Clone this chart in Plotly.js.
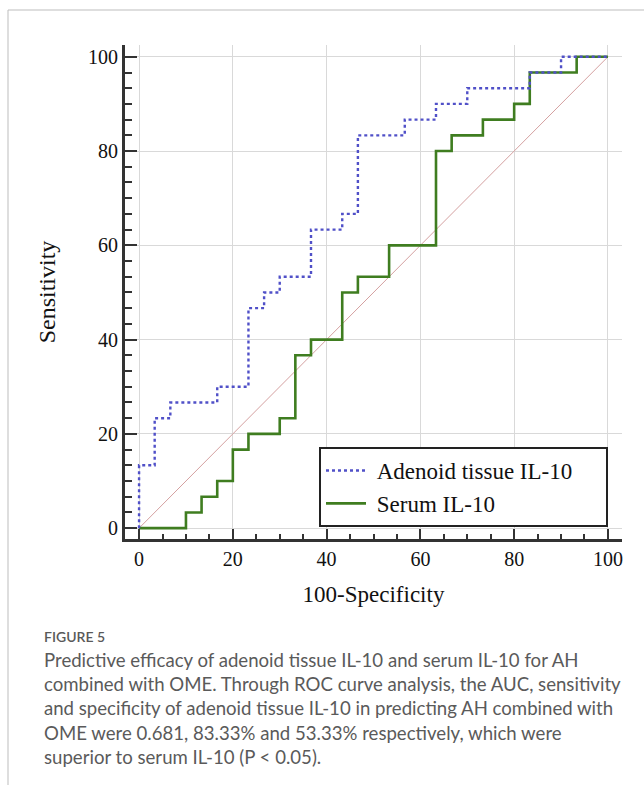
<!DOCTYPE html>
<html>
<head>
<meta charset="utf-8">
<script src="https://cdn.plot.ly/plotly-3.0.1.min.js"></script>
<style>
html,body{margin:0;padding:0;background:#fff;}
#chart{width:644px;height:785px;}
</style>
</head>
<body>
<div id="chart"></div>
<script>
// ROC vertices (100-Specificity, Sensitivity), drawn as steps
const adenoidX = [0, 0, 3.33, 6.67, 16.67, 23.33, 26.67, 30, 36.67, 43.33, 46.67, 56.67, 63.33, 70, 83.33, 90, 100];
const adenoidY = [0, 13.33, 23.33, 26.67, 30, 46.67, 50, 53.33, 63.33, 66.67, 83.33, 86.67, 90, 93.33, 96.67, 100, 100];
const serumX = [0, 10, 13.33, 16.67, 20, 23.33, 30, 33.33, 36.67, 43.33, 46.67, 53.33, 63.33, 66.67, 73.33, 80, 83.33, 93.33, 100];
const serumY = [0, 3.33, 6.67, 10, 16.67, 20, 23.33, 36.67, 40, 50, 53.33, 60, 80, 83.33, 86.67, 90, 96.67, 100, 100];
const refX = [0, 100];
const refY = [0, 100];
const tickVals = [0, 20, 40, 60, 80, 100];
const seriesNames = ['Adenoid tissue IL-10', 'Serum IL-10'];
const captionHead = 'FIGURE 5';
const captionLines = [
  'Predictive efficacy of adenoid tissue IL-10 and serum IL-10 for AH',
  'combined with OME. Through ROC curve analysis, the AUC, sensitivity',
  'and specificity of adenoid tissue IL-10 in predicting AH combined with',
  'OME were 0.681, 83.33% and 53.33% respectively, which were',
  'superior to serum IL-10 (P < 0.05).'
];

const serif = 'Liberation Serif, Times New Roman, serif';
const W = 644, H = 785;
const L = 125, R = 22, T = 45, B = 246;
const pw = W - L - R, ph = H - T - B;
const px = v => (v - L) / pw;       // pixel x -> paper
const py = v => (H - B - v) / ph;   // pixel y -> paper
const pad = '\u00a0\u00a0\u00a0\u00a0\u00a0';

const traces = [
  {x: refX, y: refY, type: 'scatter', mode: 'lines', showlegend: false, hoverinfo: 'skip',
   line: {color: '#d4a0a0', width: 1}},
  {x: serumX, y: serumY, type: 'scatter', mode: 'lines', name: '\u00a0' + seriesNames[1],
   line: {color: '#3f7d20', width: 2.6, shape: 'hv'}},
  {x: adenoidX, y: adenoidY, type: 'scatter', mode: 'lines', name: '\u00a0' + seriesNames[0] + pad,
   line: {color: '#5050c8', width: 2.4, dash: 'dot', shape: 'hv'}}
];

const annotations = [
  {text: captionHead, xref: 'paper', yref: 'paper', x: px(42), y: py(636), xanchor: 'left', yanchor: 'middle',
   showarrow: false, font: {family: 'Lato, Noto Sans, sans-serif', size: 14, color: '#595959', weight: 600}}
];
captionLines.forEach((t, i) => {
  annotations.push({text: t, xref: 'paper', yref: 'paper', x: px(42), y: py(660 + i * 24.2),
    xanchor: 'left', yanchor: 'middle', showarrow: false,
    font: {family: 'Lato, Noto Sans, sans-serif', size: 18.6, color: '#5a5a5a'}});
});

const layout = {
  width: W, height: H,
  margin: {l: L, r: R, t: T, b: B, pad: 0},
  paper_bgcolor: '#fff', plot_bgcolor: '#fff',
  showlegend: true,
  legend: {x: px(608), y: py(527), xanchor: 'right', yanchor: 'bottom',
    bordercolor: '#222', borderwidth: 2, bgcolor: '#fff', traceorder: 'reversed',
    font: {family: serif, size: 23, color: '#111'}, itemwidth: 40, tracegroupgap: 0},
  xaxis: {range: [-3, 103], tickvals: tickVals, ticks: 'inside', ticklen: 10, tickwidth: 2, tickcolor: '#333',
    showline: true, linecolor: '#333', linewidth: 2.5, mirror: false,
    showgrid: true, gridcolor: '#d9d9d9', gridwidth: 1, zeroline: false,
    minor: {dtick: 5, tick0: 0, ticks: 'inside', ticklen: 5, tickwidth: 2, tickcolor: '#333', showgrid: false},
    tickfont: {family: serif, size: 20, color: '#111'},
    title: {text: '100-Specificity', font: {family: serif, size: 23, color: '#111'}, standoff: 18},
    fixedrange: true},
  yaxis: {range: [-2.3, 102.5], tickvals: tickVals, ticks: 'inside', ticklen: 12, tickwidth: 2, tickcolor: '#333',
    showline: true, linecolor: '#333', linewidth: 3, mirror: false,
    showgrid: true, gridcolor: '#d9d9d9', gridwidth: 1, zeroline: false,
    minor: {dtick: 20 / 6, tick0: 0, ticks: 'inside', ticklen: 7, tickwidth: 2, tickcolor: '#333', showgrid: false},
    tickfont: {family: serif, size: 20, color: '#111'},
    title: {text: 'Sensitivity', font: {family: serif, size: 24, color: '#111'}, standoff: 26},
    fixedrange: true},
  shapes: [
    {type: 'line', xref: 'paper', yref: 'paper', x0: px(8), x1: px(644), y0: py(10), y1: py(10),
     line: {color: '#bdbdbd', width: 1}},
    {type: 'line', xref: 'paper', yref: 'paper', x0: px(8), x1: px(8), y0: py(10), y1: py(785),
     line: {color: '#bdbdbd', width: 1}}
  ],
  annotations: annotations
};

Plotly.newPlot('chart', traces, layout, {displayModeBar: false, staticPlot: true});
</script>
</body>
</html>
